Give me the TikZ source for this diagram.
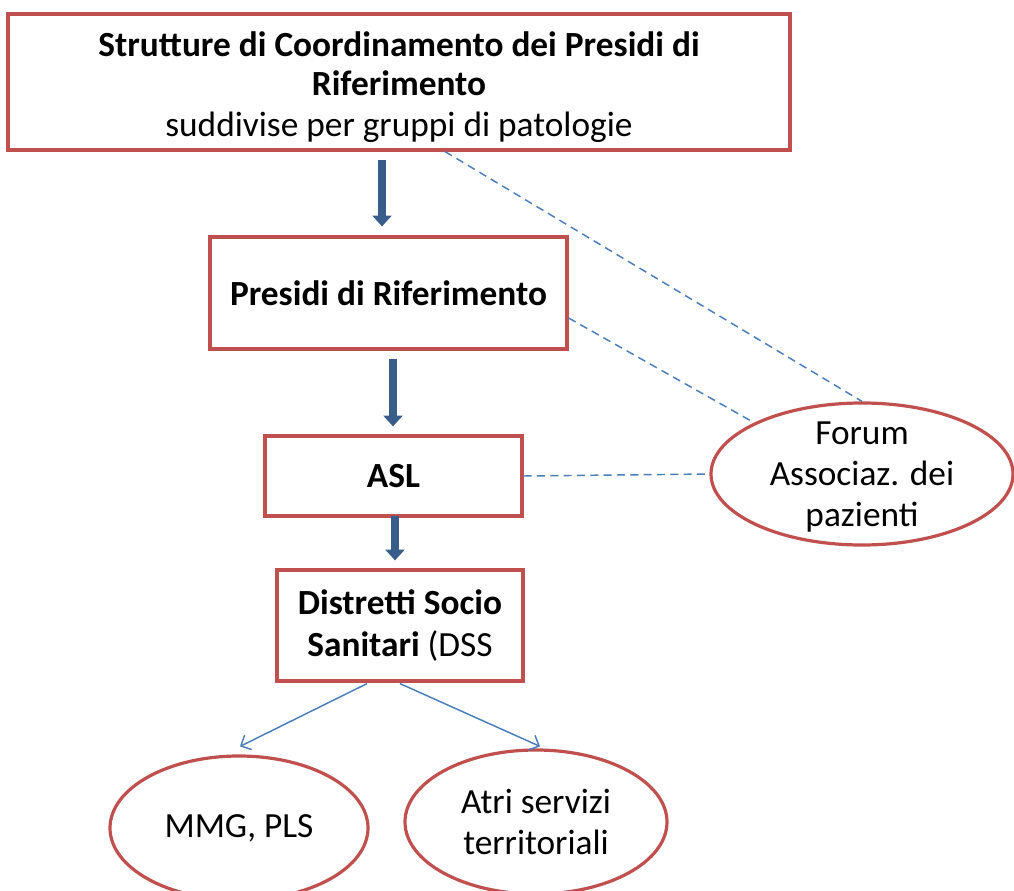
\documentclass[tikz,border=0pt]{standalone}
\usepackage{fontspec}
\setmainfont{Carlito}
\usetikzlibrary{shapes.geometric,arrows.meta,calc}
\definecolor{boxred}{HTML}{C0504D}
\definecolor{arrowblue}{HTML}{385D8A}
\definecolor{lineblue}{HTML}{4A7EBB}
\tikzset{
  rbox/.style={draw=boxred, line width=2.4pt, fill=white, inner sep=0pt, align=center,
    font=\fontsize{26.5}{31}\selectfont},
  rell/.style={ellipse, draw=boxred, line width=2.4pt, fill=white, inner sep=0pt, align=center,
    font=\fontsize{26.5}{31}\selectfont},
  bigarrow/.style={draw=arrowblue, line width=5.5pt, -{Triangle[width=14pt,length=8pt]}},
  thinarrow/.style={draw=lineblue, line width=1.1pt, -{Straight Barb[length=6pt,width=12pt]}},
  dashline/.style={draw=lineblue, line width=1.1pt, dash pattern=on 6pt off 4pt},
}
\begin{document}
\begin{tikzpicture}[x=0.75pt,y=-0.75pt]
\useasboundingbox (0,0) rectangle (1014,891);
% nodes
\node[rbox, minimum width=782*0.75pt, minimum height=136*0.75pt] (top) at (399,82)
  {\rule{0pt}{26pt}\textbf{Strutture di Coordinamento dei Presidi di}\\[-1.5pt]\textbf{Riferimento}\\[-0.5pt]suddivise per gruppi di patologie};
\node[rbox, minimum width=357*0.75pt, minimum height=112*0.75pt] (pres) at (388.5,293)
  {\textbf{Presidi di Riferimento}};
\node[rbox, minimum width=257*0.75pt, minimum height=80*0.75pt] (asl) at (393.5,476)
  {\textbf{ASL}};
\node[rbox, minimum width=246*0.75pt, minimum height=111*0.75pt] (dss) at (400,625.5)
  {\textbf{Distretti Socio}\\\textbf{Sanitari} (DSS};
\node[rell, minimum width=302*0.75pt, minimum height=142*0.75pt, inner sep=-5pt, text height=82pt, text depth=3pt] (forum) at (862,474)
  {Forum\\Associaz. dei\\pazienti};
\node[rell, minimum width=258*0.75pt, minimum height=144*0.75pt] (mmg) at (239,828)
  {MMG, PLS};
\node[rell, minimum width=262*0.75pt, minimum height=144*0.75pt] (atri) at (536,822)
  {Atri servizi\\territoriali};
% thick arrows
\draw[bigarrow] ($(top.south)+(-17,8)$) -- ($(pres.north)+(-6.5,-9)$);
\draw[bigarrow] ($(pres.south)+(4.5,8)$) -- ($(asl.north)+(-0.5,-8)$);
\draw[bigarrow] ($(asl.south)+(1.5,-2)$) -- ($(dss.north)+(-5,-8)$);
% thin arrows
\draw[thinarrow] ($(dss.south)+(-33,1)$) -- ($(mmg.north)+(1,-8)$);
\draw[thinarrow] ($(dss.south)+(0,1)$) -- ($(atri.north)+(4,-2)$);
% dashed lines
\draw[dashline] ($(top.south)+(46,0)$) -- (forum.north);
\draw[dashline] ($(pres.east)+(0,25)$) -- (forum.north west);
\draw[dashline] (asl.east) -- (forum.west);
\end{tikzpicture}
\end{document}
